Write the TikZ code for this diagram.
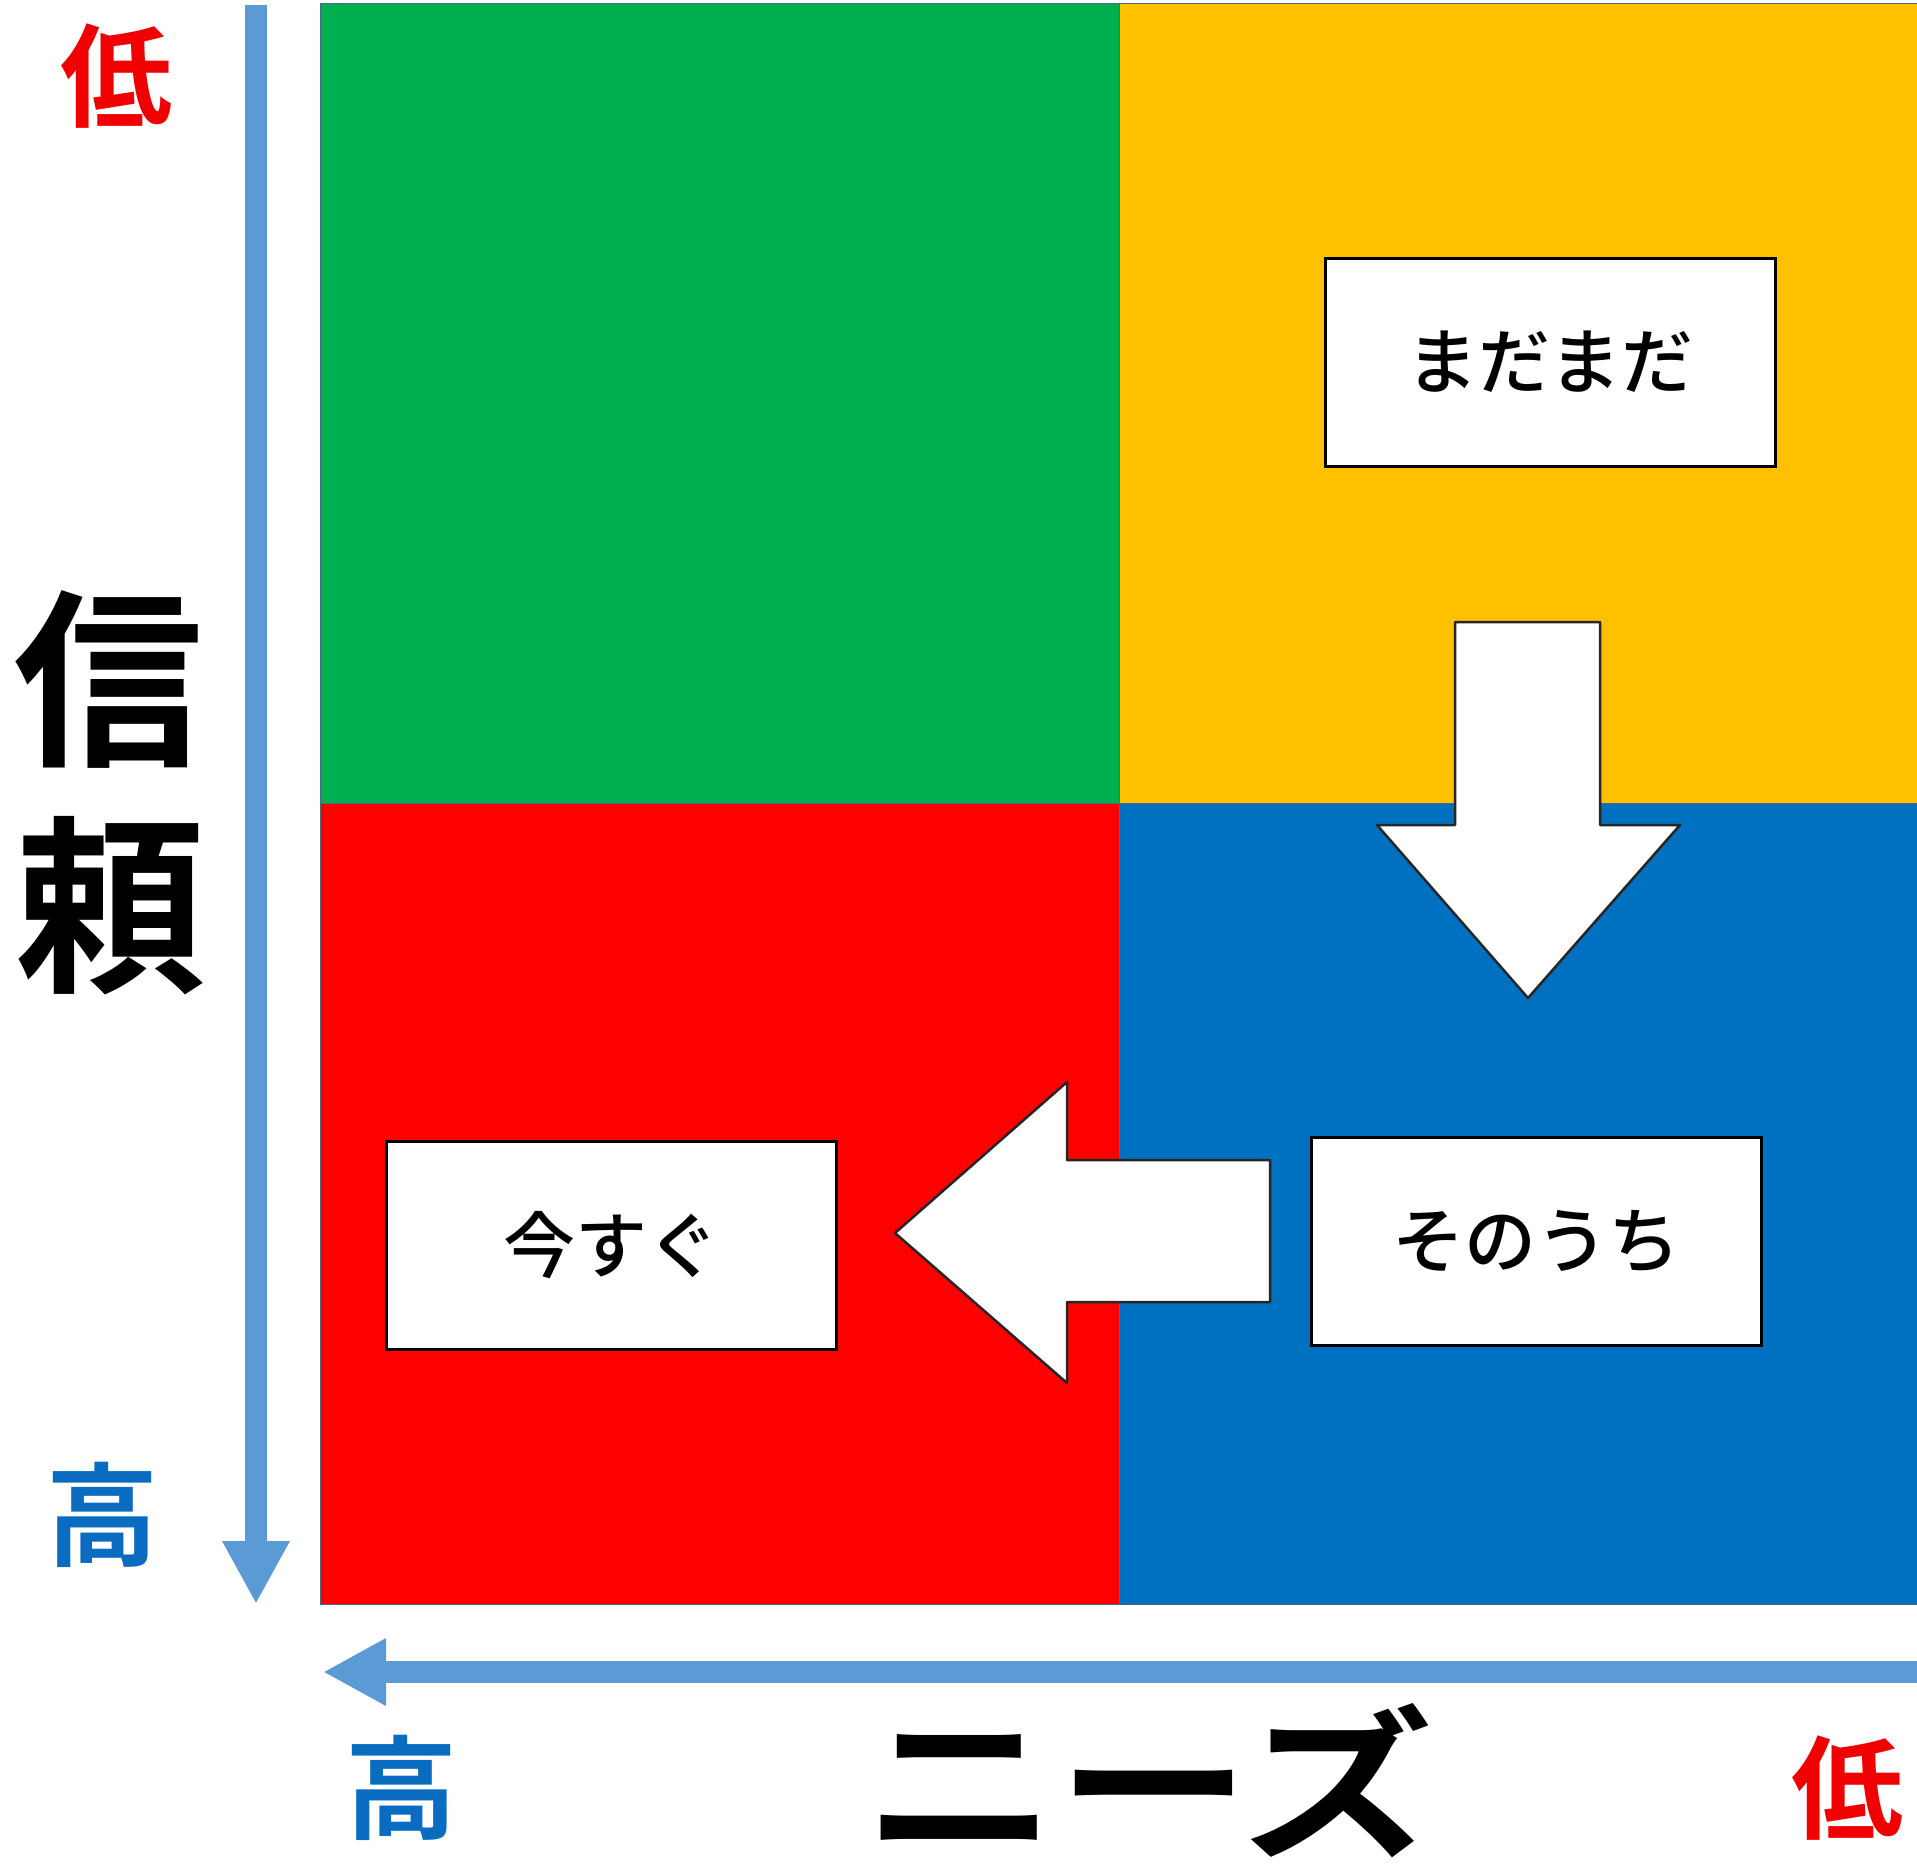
\documentclass[tikz,border=0pt]{standalone}
\usepackage{fontspec}
\newfontfamily\cjk{Noto Sans CJK JP}[BoldFont={Noto Sans CJK JP Bold}]
\newfontfamily\cjkmed{Noto Sans CJK JP Medium}
\usetikzlibrary{arrows.meta}
\definecolor{qgreen}{HTML}{00B050}
\definecolor{qyellow}{HTML}{FFC000}
\definecolor{qred}{HTML}{FF0000}
\definecolor{qblue}{HTML}{0070C0}
\definecolor{axisblue}{HTML}{5B9BD5}
\definecolor{lblred}{HTML}{F00000}
\definecolor{lblblue}{HTML}{0A6CC0}
\definecolor{cellline}{HTML}{4A6A80}
\tikzset{
  cell/.style={draw=cellline, line width=1},
  labelbox/.style={draw=black, fill=white, line width=3, minimum width=450, minimum height=208, inner sep=0, font=\cjkmed\fontsize{72}{80}\selectfont},
  blockarrow/.style={draw=black!85, fill=white, line width=2.5, line join=round},
  axisarrow/.style={draw=axisblue, line width=22, -{Triangle[length=63,width=63]}},
  axislbl/.style={inner sep=0, font=\cjk\bfseries\fontsize{112}{120}\selectfont},
  titlelbl/.style={inner sep=0, font=\cjk\bfseries\fontsize{190}{200}\selectfont}
}
\begin{document}
\begin{tikzpicture}[x=1pt,y=-1pt]
\useasboundingbox (0,0) rectangle (1917,1869);
\fill[white] (0,0) rectangle (1917,1869);
% quadrants
\fill[qgreen]  (320,3) rectangle (1119,803);
\fill[qyellow] (1119,3) rectangle (1917,803);
\fill[qred]    (320,803) rectangle (1119,1604);
\fill[qblue]   (1119,803) rectangle (1917,1604);
\draw[cell] (320,3) rectangle (1917,1604);
\draw[cell] (1119,3) -- (1119,1604);
\draw[cell] (320,803) -- (1917,803);
% axes
\coordinate (vtop) at (256,5);
\coordinate (vbot) at (256,1604);
\coordinate (hright) at (1917,1672);
\coordinate (hleft) at (323,1672);
\draw[axisarrow] (vtop) -- (vbot);
\draw[axisarrow] (hright) -- (hleft);
% boxes
\node[labelbox] (madamada) at (1550,362) {まだまだ};
\node[labelbox] (sonouchi) at (1536,1241) {そのうち};
\node[labelbox] (imasugu)  at (611,1245) {今すぐ};
% block arrows
\draw[blockarrow] (1455,622) -- (1600,622) -- (1600,825) -- (1680,825) -- (1528,998)
  -- (1377,825) -- (1455,825) -- cycle;
\draw[blockarrow] (1270,1160) -- (1270,1302) -- (1067,1302) -- (1067,1383) -- (895,1233)
  -- (1067,1082) -- (1067,1160) -- cycle;
% axis labels
\node[axislbl, text=lblred]  (lowv)  at (116,76)   {低};
\node[axislbl, text=lblblue] (highv) at (102,1515) {高};
\node[axislbl, text=lblblue] (highh) at (401,1788) {高};
\node[axislbl, text=lblred]  (lowh)  at (1847,1788) {低};
\node[titlelbl] (shin) at (108,679) {信};
\node[titlelbl] (rai)  at (110,906) {頼};
\node[inner sep=0, font=\cjk\bfseries\fontsize{165}{175}\selectfont] (needs) at (1149,1781) {\scalebox{1.17}[1]{ニーズ}};
\end{tikzpicture}
\end{document}
